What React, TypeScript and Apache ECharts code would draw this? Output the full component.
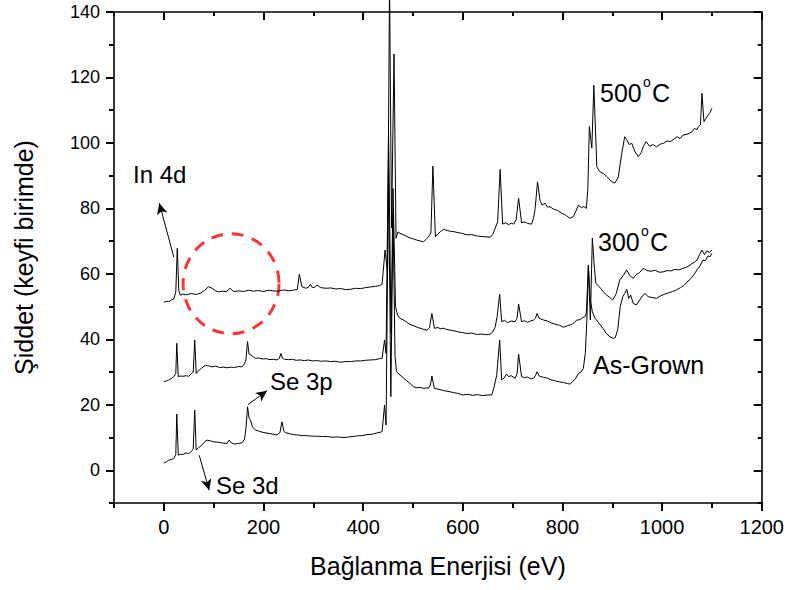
import React, { useEffect, useRef } from "react";
import * as echarts from "echarts";

// ---------- data ----------
const energy500 = [0, 5, 10, 15, 20, 24, 27, 30, 33, 38, 45, 55, 65, 75, 82, 90, 97, 104, 110, 118, 126, 133, 140, 150, 160, 170, 180, 190, 200, 210, 220, 230, 240, 250, 260, 268, 272, 277, 285, 290, 294, 298, 303, 307, 315, 325, 335, 345, 355, 365, 375, 385, 395, 405, 415, 425, 433, 438, 444, 449, 453, 457, 462, 466, 470, 474, 480, 486, 492, 498, 504, 510, 516, 521, 526, 531, 536, 540, 545, 550, 556, 561, 568, 575, 582, 590, 598, 608, 618, 628, 638, 648, 655, 660, 665, 670, 675, 680, 686, 692, 697, 702, 707, 712, 718, 723, 730, 738, 742, 745, 750, 755, 759, 765, 770, 775, 782, 790, 798, 806, 815, 822, 828, 832, 838, 843, 848, 851, 854, 859, 863, 869, 875, 882, 890, 897, 905, 912, 919, 925, 929, 934, 939, 945, 952, 958, 963, 968, 975, 982, 989, 996, 1003, 1010, 1017, 1024, 1030, 1036, 1042, 1048, 1054, 1060, 1065, 1070, 1073, 1077, 1080, 1084, 1088, 1092, 1096, 1100];
const counts500 = [51.3, 51.6, 51.5, 52.0, 52.3, 54.5, 67.8, 55.0, 53.5, 53.8, 53.6, 54.0, 53.7, 54.2, 55.0, 56.1, 55.6, 54.8, 54.5, 54.7, 54.6, 55.6, 54.6, 54.8, 54.6, 55.0, 54.7, 54.9, 54.6, 55.0, 54.8, 54.7, 55.1, 54.8, 55.0, 55.3, 59.9, 56.1, 55.6, 55.9, 56.8, 55.8, 55.9, 56.6, 55.8, 55.6, 55.7, 55.4, 55.5, 55.2, 55.3, 55.6, 55.5, 55.8, 56.0, 56.2, 56.4, 56.8, 67.3, 60.2, 150, 74, 127.2, 70.9, 72.8, 72.4, 72.0, 71.6, 71.1, 70.8, 70.5, 70.2, 70.0, 69.8, 70.5, 71.3, 72.5, 92.9, 71.3, 72.2, 73.0, 73.6, 73.3, 73.0, 72.9, 72.6, 72.4, 71.9, 72.0, 71.6, 71.4, 71.3, 71.2, 72.0, 73.9, 76, 91.9, 75.2, 75.6, 75.0, 75.5, 75.2, 76.5, 83.1, 75.6, 75.9, 75.4, 75.2, 77, 79.7, 88.1, 82.5, 81.0, 81.6, 80.4, 80.5, 79.8, 79.4, 78.6, 78.0, 77.0, 77.5, 79.5, 81.0, 80.2, 80.6, 80.0, 86, 105.0, 98.4, 117.7, 92.7, 91.2, 90.7, 89.6, 88.4, 87.7, 89.5, 96.8, 101.9, 101.0, 99.5, 99.9, 97.5, 95.8, 97.0, 99.2, 100.4, 99.0, 99.5, 98.8, 99.6, 99.9, 100.6, 100.4, 101.2, 101.9, 101.3, 102.4, 102.6, 102.9, 103.4, 104.4, 104.1, 105, 105.5, 115.2, 106.5, 107.5, 108.5, 109.3, 110.6];

const energy300 = [0, 5, 10, 15, 20, 24, 26, 29, 33, 38, 45, 50, 55, 59, 62, 65, 70, 76, 83, 90, 97, 104, 112, 120, 127, 135, 142, 150, 157, 162, 165, 168, 171, 175, 180, 184, 190, 198, 205, 213, 220, 227, 232, 235, 238, 242, 250, 258, 266, 274, 282, 290, 298, 307, 315, 325, 335, 345, 355, 365, 375, 385, 395, 405, 415, 425, 433, 438, 443, 446, 451, 456, 460, 465, 469, 474, 480, 486, 492, 498, 504, 510, 516, 522, 528, 533, 538, 543, 550, 556, 561, 568, 575, 582, 590, 598, 608, 618, 628, 638, 648, 655, 660, 665, 669, 674, 678, 684, 690, 697, 705, 709, 712, 718, 724, 730, 736, 742, 746, 749, 753, 762, 770, 778, 786, 794, 802, 810, 818, 824, 829, 835, 840, 845, 848, 852, 856, 860, 864, 867, 872, 877, 882, 888, 895, 901, 908, 915, 922, 929, 935, 942, 948, 955, 962, 970, 978, 986, 994, 1002, 1010, 1018, 1026, 1034, 1042, 1050, 1058, 1064, 1070, 1075, 1080, 1085, 1090, 1095, 1100];
const counts300 = [27.0, 27.3, 27.6, 28.0, 28.6, 29.5, 38.8, 28.6, 28.8, 28.7, 28.9, 28.7, 29.5, 30, 39.8, 29.6, 30.5, 31.2, 32.1, 31.9, 31.6, 31.8, 31.4, 31.5, 31.3, 31.5, 31.4, 31.7, 31.6, 32.5, 34, 39.3, 35.5, 35.2, 34.6, 34.2, 34.3, 34.0, 34.1, 33.8, 33.9, 33.7, 34.2, 35.7, 34.3, 33.9, 33.8, 33.9, 33.6, 33.7, 33.5, 33.7, 33.4, 33.5, 33.3, 33.4, 33.2, 33.3, 33.0, 33.2, 33.2, 33.4, 33.4, 33.6, 33.7, 33.8, 34.1, 34.2, 39.8, 35.7, 103.4, 42, 86.1, 50, 47.4, 46.4, 46.0, 45.4, 44.7, 44.3, 44.0, 43.6, 43.3, 43.0, 42.8, 43.5, 47.9, 43.4, 43.6, 43.2, 43.4, 43.0, 42.8, 42.6, 42.3, 42.1, 41.8, 41.9, 41.5, 41.6, 41.4, 41.6, 42.2, 43.8, 47, 53.8, 45.4, 45.8, 45.1, 45.6, 45.4, 46.5, 50.8, 45.4, 45.7, 45.2, 45.6, 45.9, 46.5, 47.9, 46.5, 45.9, 45.6, 45.0, 44.6, 44.3, 43.7, 44.2, 44.5, 45.2, 45.9, 46.0, 46.6, 46.9, 48, 62.2, 45.9, 70.9, 62, 57.1, 56.4, 55.5, 54.5, 53.6, 52.8, 52.0, 54, 58.1, 59.5, 61.2, 59.5, 58.6, 59.8, 60.4, 61.7, 61.0, 60.8, 61.1, 60.5, 60.6, 61.0, 60.9, 61.4, 61.2, 61.7, 62.1, 62.9, 63.5, 64.2, 65.8, 67.3, 65.9, 67.0, 66.5, 67.3];

const energyAsGrown = [0, 5, 10, 15, 20, 24, 26, 29, 33, 38, 45, 50, 55, 59, 62, 65, 70, 76, 83, 87, 93, 100, 107, 114, 120, 127, 131, 135, 142, 150, 157, 162, 165, 168, 171, 174, 178, 184, 190, 198, 205, 213, 220, 227, 233, 237, 241, 244, 252, 260, 268, 276, 284, 292, 300, 308, 318, 328, 338, 348, 358, 368, 378, 388, 398, 408, 418, 428, 434, 438, 443, 446, 451, 455.6, 460, 464, 467, 474, 480, 487, 494, 501, 508, 515, 522, 528, 531, 535, 538, 543, 550, 558, 566, 574, 582, 590, 600, 610, 620, 630, 640, 650, 658, 663, 668, 674, 678, 683, 688, 692, 697, 705, 709, 712, 718, 724, 730, 736, 742, 746, 749, 754, 762, 770, 778, 786, 794, 802, 810, 815, 821, 827, 832, 837, 842, 846, 849, 852, 856, 860, 865, 870, 876, 882, 888, 895, 902, 906, 911, 916, 921, 925, 929, 933, 937, 942, 948, 955, 960, 966, 972, 980, 989, 997, 1005, 1013, 1021, 1029, 1037, 1045, 1052, 1058, 1064, 1070, 1076, 1082, 1087, 1092, 1096, 1100];
const countsAsGrown = [2.2, 2.6, 3.1, 3.3, 3.6, 4.8, 17.2, 4.6, 4.9, 4.8, 5.3, 5.1, 5.7, 6.5, 18.4, 6.2, 7.0, 7.6, 8.9, 9.2, 9.0, 8.7, 8.6, 8.4, 8.3, 8.2, 9.2, 8.4, 8.0, 8.2, 8.4, 9.5, 13, 19.4, 16, 15.3, 13.2, 12.3, 12.0, 11.6, 11.4, 11.2, 11.0, 10.8, 11.5, 14.8, 11.9, 11.5, 11.2, 10.9, 10.8, 10.6, 10.6, 10.5, 10.4, 10.4, 10.3, 10.3, 10.1, 10.2, 10.0, 10.1, 10.3, 10.5, 10.6, 10.9, 11.0, 11.4, 11.6, 11.8, 19.9, 13.8, 92, 22.5, 78, 35, 30.1, 29.1, 28.3, 27.4, 26.5, 25.5, 25.2, 25.3, 25.0, 25.2, 25.0, 26, 28.8, 25.0, 24.8, 24.5, 24.2, 24.0, 23.7, 23.5, 23.0, 23.2, 22.9, 23.1, 22.8, 23.0, 23.0, 25.5, 29, 39.8, 27.6, 28.2, 29.4, 28.6, 28.9, 28.1, 29.5, 35.5, 28.6, 28.3, 28.5, 27.9, 28.1, 29, 30.1, 28.7, 28.4, 28.1, 27.6, 27.3, 27.0, 26.8, 26.5, 26.3, 27.2, 28.1, 29.6, 30.0, 31.1, 36, 45.9, 62.7, 52, 48.5, 46.5, 45.6, 44.4, 43.2, 41.8, 40.8, 40.3, 40.5, 43, 50.0, 53.0, 54.0, 55.3, 52.5, 53.5, 51.0, 50.5, 52.0, 53.2, 54.0, 53.0, 52.8, 52.5, 53.3, 53.8, 54.2, 54.6, 55.1, 55.8, 56.6, 57.8, 58.6, 59.8, 61.2, 62.4, 64.2, 64.0, 65.5, 65.2, 66.3];

const xMajorTicks = [0, 200, 400, 600, 800, 1000, 1200];
const yMajorTicks = [0, 20, 40, 60, 80, 100, 120, 140];

// annotation arrows [tail, head] in data coordinates
const arrowIn4d = [[20, 65.1], [-9, 81.6]];
const arrowSe3p = [[169, 20.1], [207, 24.3]];
const arrowSe3d = [[71, 4.6], [91, -6.1]];
const circleCenter = [135, 57];

const FONT = "'Liberation Sans', Arial, Helvetica, sans-serif";

function zip(xs: number[], ys: number[]) {
  return xs.map((x, i) => [x, ys[i]]);
}

export default function App() {
  const ref = useRef<HTMLDivElement>(null);
  useEffect(() => {
    document.body.style.margin = "0";
    if (!ref.current) return;
    const chart = echarts.init(ref.current, undefined, { renderer: "svg" });
    const axisColor = "#000";
    const lineW = 1.6;
    const tickW = 2;
    const fmt = (v: number) => String(v);

    const mkXMajor = (position: string, len: number, inside: boolean, labels: boolean, name: boolean) => ({
      type: "value",
      position,
      min: -100,
      max: 1200,
      interval: 100,
      axisLine: { show: true, onZero: false, lineStyle: { color: axisColor, width: lineW } },
      axisTick: { show: true, inside, length: len, customValues: xMajorTicks, lineStyle: { color: axisColor, width: tickW } },
      axisLabel: labels
        ? { show: true, customValues: xMajorTicks, formatter: fmt, color: "#000", fontSize: 20, fontFamily: FONT, margin: 14 }
        : { show: false },
      splitLine: { show: false },
      name: name ? "Bağlanma Enerjisi (eV)" : "",
      nameLocation: "middle",
      nameGap: 50,
      nameTextStyle: { color: "#000", fontSize: 25, fontFamily: FONT },
    });
    const mkXMinor = (position: string, len: number, inside: boolean) => ({
      type: "value",
      position,
      min: -100,
      max: 1200,
      interval: 200,
      axisLine: { show: false, onZero: false },
      axisTick: { show: true, inside, length: len, lineStyle: { color: axisColor, width: tickW } },
      axisLabel: { show: false },
      splitLine: { show: false },
    });
    const mkYMajor = (position: string, len: number, inside: boolean, labels: boolean, name: boolean) => ({
      type: "value",
      position,
      min: -10,
      max: 140,
      interval: 10,
      axisLine: { show: true, onZero: false, lineStyle: { color: axisColor, width: lineW } },
      axisTick: { show: true, inside, length: len, customValues: yMajorTicks, lineStyle: { color: axisColor, width: tickW } },
      axisLabel: labels
        ? { show: true, customValues: yMajorTicks, formatter: fmt, color: "#000", fontSize: 18, fontFamily: FONT, margin: 14 }
        : { show: false },
      splitLine: { show: false },
      name: name ? "Şiddet (keyfi birimde)" : "",
      nameLocation: "middle",
      nameGap: 78,
      nameTextStyle: { color: "#000", fontSize: 25, fontFamily: FONT },
    });
    const mkYMinor = (position: string, len: number, inside: boolean) => ({
      type: "value",
      position,
      min: -10,
      max: 140,
      interval: 20,
      axisLine: { show: false, onZero: false },
      axisTick: { show: true, inside, length: len, lineStyle: { color: axisColor, width: tickW } },
      axisLabel: { show: false },
      splitLine: { show: false },
    });

    const lineSeries = (name: string, xs: number[], ys: number[], extra: any = {}) => ({
      type: "line",
      name,
      xAxisIndex: 0,
      yAxisIndex: 0,
      data: zip(xs, ys),
      showSymbol: false,
      symbol: "none",
      clip: false,
      lineStyle: { color: "#000", width: 1 },
      ...extra,
    });

    const arrow = (pts: number[][]) => [
      { coord: pts[0], symbol: "none" },
      { coord: pts[1], symbol: "arrow", symbolSize: [8, 11] },
    ];

    const textEl = (text: string, x: number, y: number, size = 24) => ({
      type: "text",
      x,
      y,
      style: {
        text,
        fill: "#000",
        font: `${size}px ${FONT}`,
        textAlign: "left",
        textVerticalAlign: "middle",
        align: "left",
        verticalAlign: "middle",
      },
    });

    chart.setOption({
      animation: false,
      grid: { left: 114, right: 25, top: 12, bottom: 87 },
      xAxis: [
        mkXMajor("bottom", 8, false, true, true),
        mkXMinor("bottom", 5, false),
        mkXMajor("top", 8, true, false, false),
        mkXMinor("top", 4, true),
      ],
      yAxis: [
        mkYMajor("left", 8, false, true, true),
        mkYMinor("left", 5, false),
        mkYMajor("right", 8, true, false, false),
        mkYMinor("right", 4, true),
      ],
      series: [
        lineSeries("As-Grown", energyAsGrown, countsAsGrown, {
          markLine: {
            silent: true,
            animation: false,
            label: { show: false },
            lineStyle: { color: "#000", width: 1, type: "solid" },
            data: [arrow(arrowIn4d), arrow(arrowSe3p), arrow(arrowSe3d)],
          },
        }),
        lineSeries("300°C", energy300, counts300),
        lineSeries("500°C", energy500, counts500),
        {
          type: "scatter",
          xAxisIndex: 0,
          yAxisIndex: 0,
          data: [circleCenter],
          symbol: "circle",
          symbolSize: [96, 100],
          silent: true,
          itemStyle: { color: "rgba(0,0,0,0)", borderColor: "#ff0000", borderWidth: 3, borderType: [12, 9] },
        },
      ],
      graphic: [
        textEl("In 4d", 133, 174),
        textEl("Se 3p", 270, 381),
        textEl("Se 3d", 216, 485),
        textEl("500", 600, 93, 25),
        textEl("o", 643, 82, 14),
        textEl("C", 652, 93, 25),
        textEl("300", 598, 242, 25),
        textEl("o", 641, 231, 14),
        textEl("C", 650, 242, 25),
        textEl("As-Grown", 593, 365, 25),
      ],
    });
    return () => chart.dispose();
  }, []);
  return <div ref={ref} style={{ width: 787, height: 590 }} />;
}
